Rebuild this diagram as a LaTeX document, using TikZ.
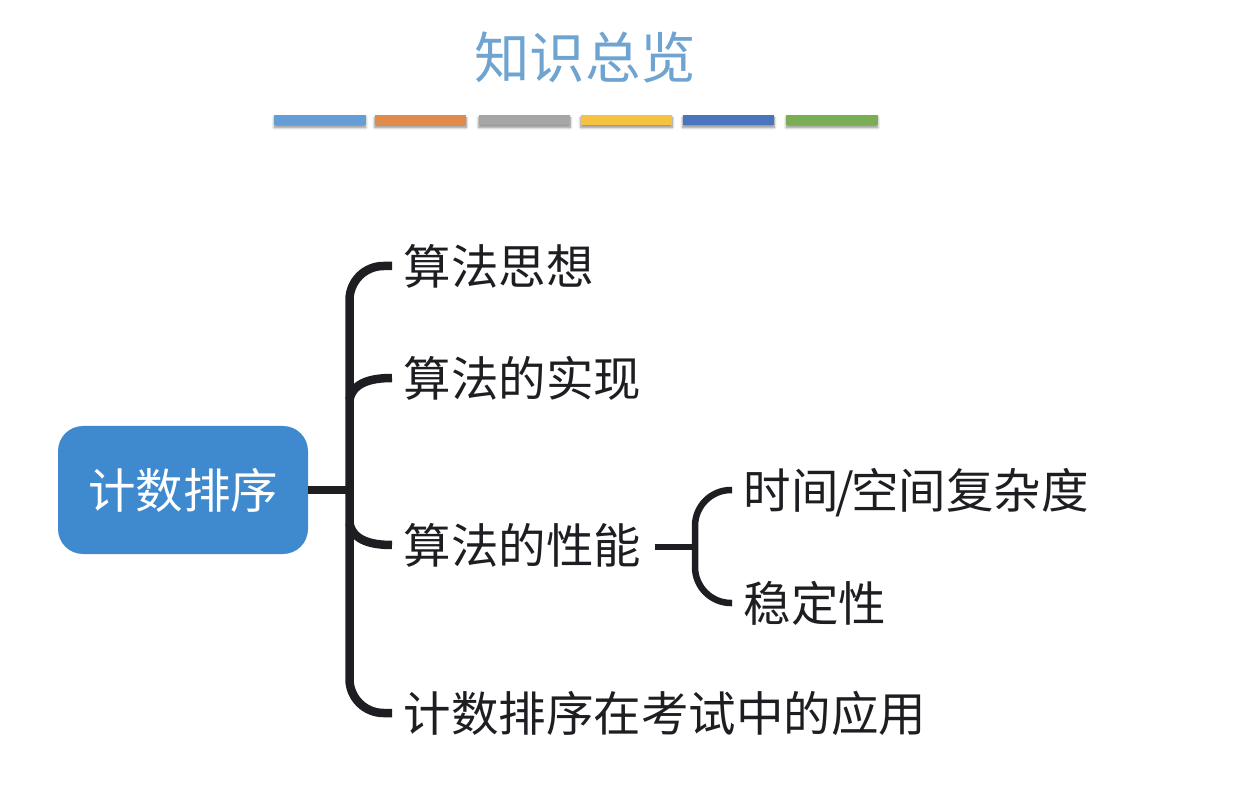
\documentclass[tikz,border=0pt]{standalone}
\usepackage{fontspec}
\setmainfont{Noto Sans CJK SC}
\usetikzlibrary{shadows.blur,calc}
\definecolor{titleblue}{HTML}{6FA3D0}
\definecolor{rootblue}{HTML}{3F8ACF}
\definecolor{ink}{HTML}{1E1E22}
\definecolor{barA}{HTML}{659ED4}
\definecolor{barB}{HTML}{E08A4B}
\definecolor{barC}{HTML}{A6A6A6}
\definecolor{barD}{HTML}{F5C242}
\definecolor{barE}{HTML}{4A74BE}
\definecolor{barF}{HTML}{79AE55}
\tikzset{
  lab/.style={font=\fontsize{47.5}{47.5}\selectfont,text=ink,anchor=west,inner sep=0pt,outer sep=11.5pt,text height=41pt,text depth=4pt},
  colourbar/.style={fill=#1,draw=none,minimum width=91.5pt,minimum height=10pt,inner sep=0pt,
    blur shadow={shadow xshift=0pt,shadow yshift=-2.5pt,shadow blur radius=2.5pt,shadow blur steps=6,shadow opacity=45}},
  rootbox/.style={fill=rootblue,draw=none,rounded corners=25pt,minimum width=250pt,minimum height=128pt,inner sep=0pt,
    text=white,font=\fontsize{47.5}{47.5}\selectfont},
  main/.style={line width=8.5pt,draw=ink,line cap=butt},
  sub/.style={line width=6.5pt,draw=ink,line cap=butt},
}
\begin{document}
\begin{tikzpicture}[x=1pt,y=-1pt]
\useasboundingbox (0,0) rectangle (1248,791);
\node[font=\fontsize{55.5}{55.5}\selectfont,text=titleblue,inner sep=0pt] (title) at (585,57) {知识总览};
\node[colourbar=barA] (b1) at (320,120) {};
\node[colourbar=barB] (b2) at (420.5,120) {};
\node[colourbar=barC] (b3) at (524.5,120) {};
\node[colourbar=barD] (b4) at (626.5,120) {};
\node[colourbar=barE] (b5) at (728.5,120) {};
\node[colourbar=barF] (b6) at (832,120) {};
\node[rootbox] (root) at (183,490) {计数排序};
\node[lab] (a) at (392,266) {算法思想};
\node[lab] (b) at (392,378) {算法的实现};
\node[lab] (c) at (392,545) {算法的性能};
\node[lab] (d) at (392,713) {计数排序在考试中的应用};
\node[lab] (e) at (732,490) {时间{\kern-3pt}/{\kern-3pt}空间复杂度};
\node[lab] (f) at (732,603) {稳定性};
\coordinate (hub) at (349.5,490);
\coordinate (subhub) at (695,547);
\draw[main] (root.east) -- (hub);
\draw[main,rounded corners=34pt] (a.west) -| (hub |- d.west) -- (d.west);
\draw[main] (b.west) to[out=180,in=80] ([yshift=-22pt]b.west -| hub);
\draw[main] (c.west) to[out=180,in=-80] ([yshift=22pt]c.west -| hub);
\draw[sub] ([xshift=2pt]c.east |- subhub) -- (subhub);
\draw[sub,rounded corners=36pt] (e.west) -| (subhub |- f.west) -- (f.west);
\end{tikzpicture}
\end{document}
